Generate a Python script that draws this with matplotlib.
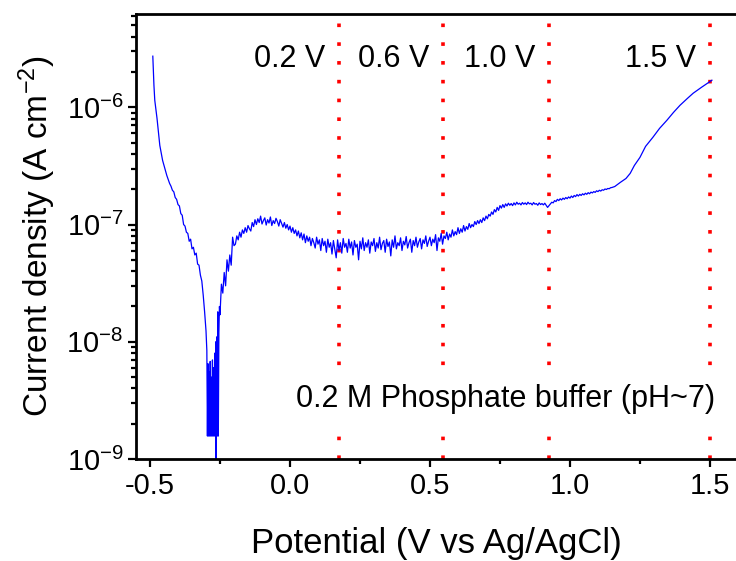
import numpy as np
import matplotlib.pyplot as plt
from matplotlib.ticker import MultipleLocator, LogLocator, NullFormatter

plt.rcParams['font.family'] = 'Liberation Sans'
plt.rcParams['mathtext.default'] = 'regular'
plt.rcParams['axes.unicode_minus'] = False

# ── data (potential in mV vs Ag/AgCl, current density in nA cm-2) ─────────────

# cathodic branch, steep fall towards the corrosion potential
left_mv = [-490, -486, -483, -475, -465, -455, -440, -430, -425, -420,
           -415, -410, -405, -400, -395, -390, -385, -380, -375, -370,
           -365, -360, -355, -350, -345, -340, -335, -330, -325, -320,
           -315, -310, -305, -300, -297]
left_na = [2729, 1542, 1148, 805, 473, 352, 262, 224, 212, 196,
           190, 170, 164, 148, 144, 124, 120, 100, 97, 86,
           84, 72, 75, 62, 64, 55, 57, 46, 45, 37,
           33, 25, 18, 12.4, 8.4]

# noisy minimum around -0.28 V
dip_mv = [-295, -293, -291, -289, -287, -285, -283, -281, -279, -277,
          -275, -273, -271, -269, -267, -265, -264, -262, -260, -258,
          -256, -254, -252, -250, -245, -240, -235, -230, -225, -220,
          -215, -210, -205, -200]
dip_na = [1.57, 6.5, 1.57, 5.5, 1.57, 6.8, 1.57, 5.0, 1.57, 7.0,
          1.57, 6.0, 1.57, 8.0, 1.57, 10, 0.5, 11, 1.57, 18,
          1.57, 12, 20, 17, 31, 26, 39, 30, 50, 40,
          55, 45, 78, 66]

# passive region (5 mV steps)
scan_mv = [-195, -190, -185, -180, -175, -170, -165, -160, -155, -150, -145, -140, -135, -130, -125,
           -120, -115, -110, -105, -100, -95, -90, -85, -80, -75, -70, -65, -60, -55, -50,
           -45, -40, -35, -30, -25, -20, -15, -10, -5, 0, 5, 10, 15, 20, 25,
           30, 35, 40, 45, 50, 55, 60, 65, 70, 75, 80, 85, 90, 95, 100,
           105, 110, 115, 120, 125, 130, 135, 140, 145, 150, 155, 160, 165, 170, 175,
           180, 185, 190, 195, 200, 205, 210, 215, 220, 225, 230, 235, 240, 245, 250,
           255, 260, 265, 270, 275, 280, 285, 290, 295, 300, 305, 310, 315, 320, 325,
           330, 335, 340, 345, 350, 355, 360, 365, 370, 375, 380, 385, 390, 395, 400,
           405, 410, 415, 420, 425, 430, 435, 440, 445, 450, 455, 460, 465, 470, 475,
           480, 485, 490, 495, 500, 505, 510, 515, 520, 525, 530, 535, 540, 545, 550,
           555, 560, 565, 570, 575, 580, 585, 590, 595, 600, 605, 610, 615, 620, 625,
           630, 635, 640, 645, 650, 655, 660, 665, 670, 675, 680, 685, 690, 695, 700,
           705, 710, 715, 720, 725, 730, 735, 740, 745, 750, 755, 760, 765, 770, 775,
           780, 785, 790, 795, 800, 805, 810, 815, 820, 825, 830, 835, 840, 845, 850,
           855, 860, 865, 870, 875, 880, 885, 890, 895, 900, 905, 910, 915, 920, 925,
           930, 935, 940, 945, 950, 955, 960, 965, 970, 975, 980, 985, 990, 995, 1000,
           1005, 1010, 1015, 1020, 1025, 1030, 1035, 1040, 1045, 1050, 1055, 1060, 1065, 1070, 1075,
           1080, 1085, 1090, 1095, 1100, 1105, 1110, 1115, 1120, 1125, 1130, 1135, 1140, 1145, 1150]
scan_na = [68, 80, 74, 86, 78, 90, 84, 94, 86, 98, 92, 88, 104, 96, 110,
           100, 112, 104, 118, 101, 108, 114, 99, 110, 103, 116, 98, 108, 102, 113,
           106, 97, 110, 102, 95, 104, 93, 100, 90, 97, 86, 94, 84, 90, 80,
           88, 77, 85, 74, 83, 70, 80, 72, 78, 66, 76, 70, 63, 78, 68,
           74, 60, 76, 66, 72, 58, 75, 64, 70, 56, 73, 62, 52, 74, 60,
           70, 57, 76, 64, 69, 58, 75, 63, 71, 55, 73, 64, 68, 50, 72,
           62, 77, 60, 70, 64, 74, 57, 71, 66, 76, 59, 70, 63, 78, 61,
           69, 73, 58, 75, 65, 71, 54, 74, 64, 80, 62, 70, 66, 77, 60,
           72, 67, 79, 63, 70, 75, 58, 73, 66, 78, 64, 71, 76, 62, 74,
           69, 80, 65, 72, 78, 66, 75, 70, 82, 60, 77, 72, 84, 68, 80,
           76, 86, 74, 83, 78, 90, 80, 87, 82, 94, 84, 92, 86, 98, 88,
           96, 91, 102, 94, 100, 96, 106, 100, 108, 102, 110, 104, 114, 108, 118,
           112, 122, 118, 128, 122, 134, 128, 140, 132, 145, 138, 148, 140, 150, 144,
           152, 146, 151, 145, 153, 147, 155, 149, 152, 147, 154, 149, 153, 148, 155,
           150, 152, 147, 154, 149, 151, 146, 153, 148, 151, 147, 152, 146, 140, 145,
           150, 155, 153, 160, 157, 164, 160, 166, 162, 168, 164, 170, 166, 172, 168,
           175, 170, 177, 173, 180, 175, 181, 177, 183, 179, 185, 181, 187, 183, 189,
           186, 191, 188, 194, 191, 196, 193, 198, 196, 201, 199, 203, 202, 206, 207]

# oxygen evolution onset
rise_mv = [1160, 1180, 1200, 1215, 1230, 1250, 1270, 1296, 1320, 1346,
           1370, 1393, 1420, 1440, 1470, 1507]
rise_na = [211, 229, 247, 273, 319, 374, 464, 554, 661, 774,
           906, 1040, 1194, 1318, 1482, 1702]

# held potentials
marker_v = [0.175, 0.548, 0.926, 1.5]
marker_labels = ['0.2 V', '0.6 V', '1.0 V', '1.5 V']

potential = np.array(left_mv + dip_mv + scan_mv + rise_mv) / 1000.0
current = np.array(left_na + dip_na + scan_na + rise_na) * 1e-9

# ── plot ──────────────────────────────────────────────────────────────────────

fig = plt.figure(figsize=(7.36, 5.61), dpi=100)
ax = fig.add_axes([0.1848, 0.1818, 0.8152, 0.794])

ax.plot(potential, current, color='#0000FF', lw=0.9, zorder=2)
for v in marker_v:
    ax.axvline(v, color='#FF0000', lw=2.6, ls=(0, (1, 4.2)), zorder=1)

ax.set_yscale('log')
ax.set_xlim(-0.55, 1.593)
ax.set_ylim(1e-9, 6.3e-6)

trans = ax.get_xaxis_transform()
for v, lab in zip(marker_v, marker_labels):
    ax.text(v - 0.05, 0.88, lab, transform=trans, ha='right', va='baseline', fontsize=22)
ax.text(0.021, 0.117, '0.2 M Phosphate buffer (pH~7)', transform=trans,
        ha='left', va='baseline', fontsize=22, zorder=4,
        bbox=dict(facecolor='white', edgecolor='none', boxstyle='square,pad=0.25'))

ax.xaxis.set_major_locator(MultipleLocator(0.5))
ax.xaxis.set_minor_locator(MultipleLocator(0.25))
ax.yaxis.set_major_locator(LogLocator(base=10, numticks=10))
ax.yaxis.set_minor_locator(LogLocator(base=10, subs=np.arange(2, 10), numticks=20))
ax.yaxis.set_minor_formatter(NullFormatter())

ax.tick_params(which='major', direction='out', length=6, width=1.6, labelsize=21, pad=3)
ax.tick_params(which='minor', direction='out', length=3.5, width=1.6)
ax.tick_params(top=False, right=False)

for side in ['left', 'bottom', 'top']:
    ax.spines[side].set_linewidth(2.0)
ax.spines['right'].set_visible(False)

ax.set_xlabel('Potential (V vs Ag/AgCl)', fontsize=25, labelpad=20)
ax.set_ylabel('Current density (A cm$^{-2}$)', fontsize=24, labelpad=6)

fig.savefig('out.png', dpi=100)
